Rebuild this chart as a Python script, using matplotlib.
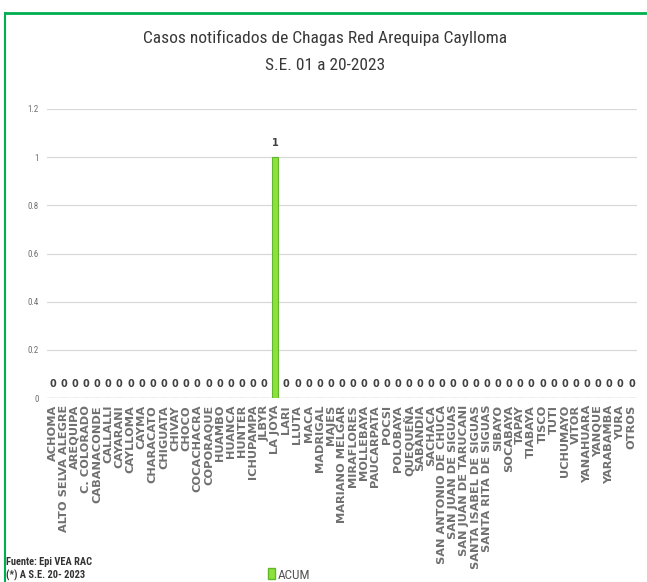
import matplotlib
matplotlib.use("Agg")
import matplotlib.pyplot as plt
from matplotlib import font_manager
from matplotlib.patches import Patch
from matplotlib.lines import Line2D

categories = ["ACHOMA", "ALTO SELVA ALEGRE", "AREQUIPA", "C. COLORADO", "CABANACONDE",
              "CALLALLI", "CAYARANI", "CAYLLOMA", "CAYMA", "CHARACATO", "CHIGUATA",
              "CHIVAY", "CHOCO", "COCACHACRA", "COPORAQUE", "HUAMBO", "HUANCA", "HUNTER",
              "ICHUPAMPA", "JLBYR", "LA JOYA", "LARI", "LLUTA", "MACA", "MADRIGAL", "MAJES",
              "MARIANO MELGAR", "MIRAFLORES", "MOLLEBAYA", "PAUCARPATA", "POCSI", "POLOBAYA",
              "QUEQUEÑA", "SABANDIA", "SACHACA", "SAN ANTONIO DE CHUCA", "SAN JUAN DE SIGUAS",
              "SAN JUAN DE TARUCANI", "SANTA ISABEL DE SIGUAS", "SANTA RITA DE SIGUAS",
              "SIBAYO", "SOCABAYA", "TAPAY", "TIABAYA", "TISCO", "TUTI", "UCHUMAYO", "VITOR",
              "YANAHUARA", "YANQUE", "YARABAMBA", "YURA", "OTROS"]
acum = [0] * len(categories)
acum[categories.index("LA JOYA")] = 1
yticks = [0, 0.2, 0.4, 0.6, 0.8, 1, 1.2]
ytick_labels = ["0", "0.2", "0.4", "0.6", "0.8", "1", "1.2"]

names = {f.name for f in font_manager.fontManager.ttflist}
cond = None
for cand in ["Liberation Sans Narrow", "Roboto Condensed", "Open Sans Condensed",
             "DejaVu Sans Condensed", "Noto Sans Condensed"]:
    if cand in names:
        cond = cand
        break
sans = ["Liberation Sans", "DejaVu Sans"]
narrow = [cond, "DejaVu Sans"] if cond else sans

W, H = 647, 582
fig = plt.figure(figsize=(W / 100, H / 100), dpi=100)
fig.patch.set_facecolor("white")

left, right, top, bottom = 47, 637, 109, 398
ax = fig.add_axes([left / W, 1 - bottom / H, (right - left) / W, (bottom - top) / H])

x = list(range(len(categories)))
ax.bar(x, acum, width=0.5, color="#8ee03c", edgecolor="#5fb92a", linewidth=0.8, zorder=3)
for xi, v in zip(x, acum):
    ax.text(xi, v + 0.038, f"{v:g}", ha="center", va="bottom", fontsize=7,
            fontweight="bold", color="#404040", family="DejaVu Sans")

ax.set_xlim(-0.5, len(categories) - 0.5)
ax.set_ylim(0, 1.2)
ax.set_yticks(yticks)
ax.set_yticklabels(ytick_labels, fontsize=6.5, color="#707070", family=narrow)
ax.set_xticks(x)
ax.set_xticklabels(categories, rotation=90, fontsize=8.2, fontweight="bold",
                   color="#707070", family="DejaVu Sans")
ax.tick_params(axis="both", length=0)
ax.tick_params(axis="y", pad=6)
ax.tick_params(axis="x", pad=5)
ax.grid(axis="y", color="#d9d9d9", linewidth=0.9, zorder=0)
for s in ax.spines.values():
    s.set_visible(False)
ax.axhline(0, color="#d9d9d9", linewidth=1.0, zorder=1)

tsize = 12.5 if cond else 11
fig.text(0.503, 1 - 38 / H, "Casos notificados de Chagas Red Arequipa Caylloma",
         ha="center", va="center", fontsize=tsize, color="#383838", family=narrow)
fig.text(0.503, 1 - 66 / H, "S.E. 01 a 20-2023",
         ha="center", va="center", fontsize=tsize, color="#383838", family=narrow)

fsize = 7.5 if cond else 6
fig.text(6 / W, 1 - 562 / H, "Fuente: Epi VEA RAC", ha="left", va="center",
         fontsize=fsize, fontweight="bold", color="#333333", family=narrow)
fig.text(6 / W, 1 - 575 / H, "(*) A S.E. 20- 2023", ha="left", va="center",
         fontsize=fsize, fontweight="bold", color="#333333", family=narrow)

fig.legend(handles=[Patch(facecolor="#8ee03c", edgecolor="#5fb92a", label="ACUM")],
           loc="center", bbox_to_anchor=(289 / W, 1 - 575 / H), frameon=False,
           prop={"family": narrow, "size": 9.5}, handlelength=0.5,
           handleheight=0.9, handletextpad=0.2, labelcolor="#555555")

fig.add_artist(Line2D([5 / W, 1], [1 - 13 / H, 1 - 13 / H], transform=fig.transFigure,
                      color="#00b050", linewidth=2.0))
fig.add_artist(Line2D([5 / W, 5 / W], [0, 1 - 13 / H], transform=fig.transFigure,
                      color="#00b050", linewidth=1.5))

fig.savefig("out.png", dpi=100)
